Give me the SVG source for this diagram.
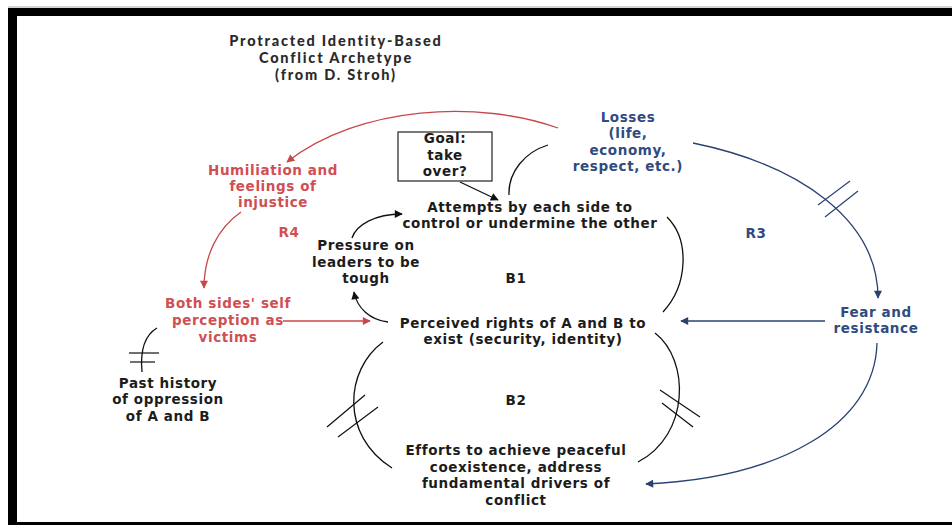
<svg xmlns="http://www.w3.org/2000/svg" width="952" height="525" viewBox="0 0 952 525">
  <defs>
    <marker id="ah-black" viewBox="0 0 10 10" refX="9" refY="5" markerWidth="9" markerHeight="8" markerUnits="userSpaceOnUse" orient="auto">
      <path d="M0,0 L10,5 L0,10 Z" fill="#111"/>
    </marker>
    <marker id="ah-red" viewBox="0 0 10 10" refX="9" refY="5" markerWidth="9" markerHeight="8" markerUnits="userSpaceOnUse" orient="auto">
      <path d="M0,0 L10,5 L0,10 Z" fill="#c8474a"/>
    </marker>
    <marker id="ah-blue" viewBox="0 0 10 10" refX="9" refY="5" markerWidth="9" markerHeight="8" markerUnits="userSpaceOnUse" orient="auto">
      <path d="M0,0 L10,5 L0,10 Z" fill="#2a4272"/>
    </marker>
  </defs>
  <style>
    text { font-family: "DejaVu Sans", Verdana, sans-serif; font-weight: bold; font-size: 13.5px; letter-spacing: 0.6px; text-anchor: middle; }
    .title { font-family: Lato, "Open Sans", sans-serif; font-weight: 900; font-size: 14.5px; letter-spacing: 1.8px; fill: #2a2a2a; }
    .k { fill: #1c1c1c; }
    .r { fill: #cf4f52; }
    .b { fill: #2f4b80; }
    .ln { fill: none; stroke-width: 1.3; }
    .lk { stroke: #111; }
    .lr { stroke: #c8474a; }
    .lb { stroke: #2a4272; }
    .hatch { stroke-width: 1.2; fill: none; }
  </style>

  <!-- page frame -->
  <rect x="0" y="0" width="952" height="525" fill="#fff"/>
  <line x1="8" y1="7" x2="952" y2="7" stroke="#aaa" stroke-width="1"/>
  <rect x="8" y="8" width="944" height="8" fill="#000"/>
  <rect x="8" y="8" width="9" height="517" fill="#000"/>
  <rect x="8" y="522" width="944" height="3" fill="#000"/>

  <!-- title -->
  <g id="title">
    <text class="title" x="336" y="46">Protracted Identity-Based</text>
    <text class="title" x="336" y="63">Conflict Archetype</text>
    <text class="title" x="336" y="80">(from D. Stroh)</text>
  </g>

  <!-- connectors -->
  <g id="connectors">
    <path class="ln lr" d="M558,128 C480,100 360,105 287,162" marker-end="url(#ah-red)"/>
    <path class="ln lr" d="M241,212 C218,228 204,255 204,288" marker-end="url(#ah-red)"/>
    <path class="ln lr" d="M283,321 L370,321" marker-end="url(#ah-red)"/>
    <path class="ln lk" d="M388,322 C370,320 357,308 354,292" marker-end="url(#ah-black)"/>
    <path class="ln lk" d="M352,238 C356,225 375,214 402,214" marker-end="url(#ah-black)"/>
    <path class="ln lk" d="M460,182 L498,200" marker-end="url(#ah-black)"/>
    <path class="ln lk" d="M509,195 C508,172 525,152 548,145"/>
    <path class="ln lk" d="M667,217 C690,240 688,285 663,312"/>
    <path class="ln lb" d="M693,143 C800,165 878,220 878,298" marker-end="url(#ah-blue)"/>
    <line class="hatch lb" x1="818" y1="205" x2="850" y2="181"/>
    <line class="hatch lb" x1="825" y1="217" x2="858" y2="191"/>
    <path class="ln lb" d="M825,321 L681,321" marker-end="url(#ah-blue)"/>
    <path class="ln lb" d="M877,343 C875,425 780,478 646,484" marker-end="url(#ah-blue)"/>
    <path class="ln lk" d="M383,342 C345,370 340,435 392,468"/>
    <line class="hatch lk" x1="327" y1="427" x2="365" y2="395"/>
    <line class="hatch lk" x1="338" y1="437" x2="378" y2="407"/>
    <path class="ln lk" d="M655,333 C690,360 690,435 638,462"/>
    <line class="hatch lk" x1="660" y1="390" x2="700" y2="417"/>
    <line class="hatch lk" x1="662" y1="403" x2="693" y2="427"/>
    <path class="ln lk" d="M142,372 C140,350 145,335 157,328"/>
    <line class="hatch lk" x1="129" y1="353" x2="159" y2="353"/>
    <line class="hatch lk" x1="130" y1="362" x2="155" y2="362"/>
  </g>

  <!-- nodes -->
  <g id="losses">
    <text class="b" x="628" y="122">Losses</text>
    <text class="b" x="628" y="138">(life,</text>
    <text class="b" x="628" y="155">economy,</text>
    <text class="b" x="628" y="171">respect, etc.)</text>
  </g>
  <g id="humiliation">
    <text class="r" x="273" y="175">Humiliation and</text>
    <text class="r" x="273" y="191">feelings of</text>
    <text class="r" x="273" y="207">injustice</text>
  </g>
  <g id="r4"><text class="r" x="289" y="237">R4</text></g>
  <g id="goal">
    <rect x="398" y="132" width="94" height="49" fill="#fff" stroke="#222" stroke-width="1.2"/>
    <text class="k" x="445" y="143">Goal:</text>
    <text class="k" x="445" y="160">take</text>
    <text class="k" x="445" y="176">over?</text>
  </g>
  <g id="attempts">
    <text class="k" x="530" y="212">Attempts by each side to</text>
    <text class="k" x="530" y="228">control or undermine the other</text>
  </g>
  <g id="r3"><text class="b" x="756" y="238">R3</text></g>
  <g id="pressure">
    <text class="k" x="366" y="250">Pressure on</text>
    <text class="k" x="366" y="267">leaders to be</text>
    <text class="k" x="366" y="283">tough</text>
  </g>
  <g id="b1"><text class="k" x="516" y="283">B1</text></g>
  <g id="victims">
    <text class="r" x="228" y="308">Both sides' self</text>
    <text class="r" x="228" y="325">perception as</text>
    <text class="r" x="228" y="342">victims</text>
  </g>
  <g id="rights">
    <text class="k" x="523" y="328">Perceived rights of A and B to</text>
    <text class="k" x="523" y="344">exist (security, identity)</text>
  </g>
  <g id="fear">
    <text class="b" x="876" y="317">Fear and</text>
    <text class="b" x="876" y="333">resistance</text>
  </g>
  <g id="history">
    <text class="k" x="168" y="388">Past history</text>
    <text class="k" x="168" y="404">of oppression</text>
    <text class="k" x="168" y="421">of A and B</text>
  </g>
  <g id="b2"><text class="k" x="516" y="405">B2</text></g>
  <g id="efforts">
    <text class="k" x="516" y="455">Efforts to achieve peaceful</text>
    <text class="k" x="516" y="472">coexistence, address</text>
    <text class="k" x="516" y="488">fundamental drivers of</text>
    <text class="k" x="516" y="505">conflict</text>
  </g>
</svg>
